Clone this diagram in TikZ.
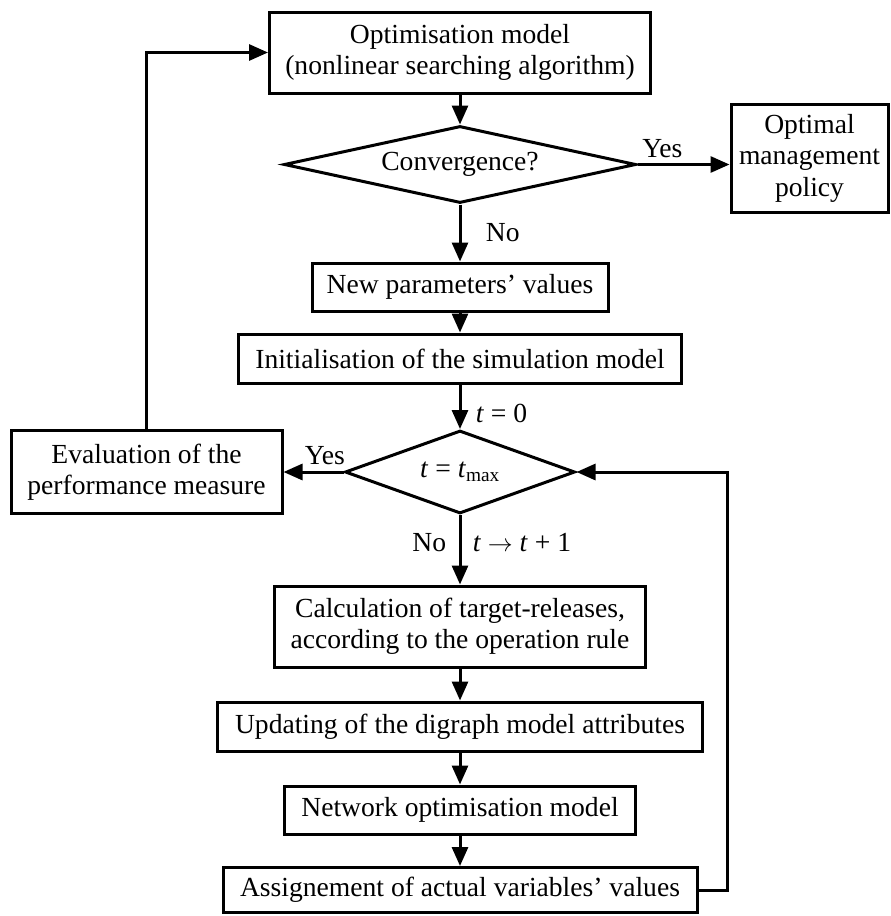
\documentclass[tikz,border=0pt]{standalone}
\usepackage{fontspec}
\setmainfont{Liberation Serif}
\usetikzlibrary{shapes.geometric,arrows.meta}

\begin{document}
\begin{tikzpicture}[x=1pt,y=-1pt,
    txt/.style={font=\fontsize{27.6}{31.5}\selectfont},
    blk/.style={txt,draw,line width=3pt,inner sep=0pt,align=center},
    dec/.style={txt,draw,diamond,line width=3pt,inner sep=0pt},
    arr/.style={line width=3pt,-{Triangle[length=19pt,width=16pt]}}]
            \useasboundingbox (0,0) rectangle (891,916);

            \node[blk,minimum width=381pt,minimum height=81pt] (optim) at (460,52.5) {Optimisation model\\(nonlinear searching algorithm)};
            \node[dec,aspect=4.57,minimum width=352pt,minimum height=77pt] (converge) at (460,164.5) {Convergence?};
            \node[blk,minimum width=157pt,minimum height=108pt] (optimal) at (809.5,158) {Optimal\\management\\policy};
            \node[blk,minimum width=296pt,minimum height=48pt] (newpar) at (460,287) {New parameters’ values};
            \node[blk,minimum width=443pt,minimum height=49pt] (init) at (460,358.5) {Initialisation of the simulation model};
            \node[dec,aspect=2.77,minimum width=230pt,minimum height=83pt] (tmax) at (460,472) {\textit{t} = \textit{t}\textsubscript{max}};
            \node[blk,minimum width=271pt,minimum height=83pt] (evalp) at (146.5,472) {Evaluation of the\\performance measure};
            \node[blk,minimum width=371pt,minimum height=81pt] (target) at (460,626.5) {Calculation of target-releases,\\according to the operation rule};
            \node[blk,minimum width=485pt,minimum height=49pt] (update) at (460,726.5) {Updating of the digraph model attributes};
            \node[blk,minimum width=351pt,minimum height=48pt] (network) at (460,810) {Network optimisation model};
            \node[blk,minimum width=474pt,minimum height=45pt] (assign) at (460,890) {Assignement of actual variables’ values};

            \coordinate (lloop) at (146.5,52.5);
            \coordinate (rloop) at (727,472);

            \draw[arr] (optim) -- (converge);
            \draw[arr] (converge.east) -- (converge.east -| optimal.west) node[txt,pos=0.27,above=2pt] {Yes};
            \draw[arr] (converge) -- (newpar) node[txt,midway,right=21pt] {No};
            \draw[arr] (newpar) -- (init);
            \draw[arr] (init) -- (tmax) node[txt,pos=0.65,right=11pt] {\textit{t} = 0};
            \draw[arr] (tmax) -- (evalp) node[txt,pos=0.31,above=2pt] {Yes};
            \draw[arr] (tmax) -- (target) node[txt,pos=0.39,left=9pt] {No}
                node[txt,pos=0.39,right=8pt] {\textit{t} $\rightarrow$ \textit{t} + 1};
            \draw[arr] (target) -- (update);
            \draw[arr] (update) -- (network);
            \draw[arr] (network) -- (assign);
            \draw[arr] (assign) -| (rloop) -- (tmax);
            \draw[arr] (evalp) -- (lloop) -- (optim);
        \end{tikzpicture}
\end{document}
